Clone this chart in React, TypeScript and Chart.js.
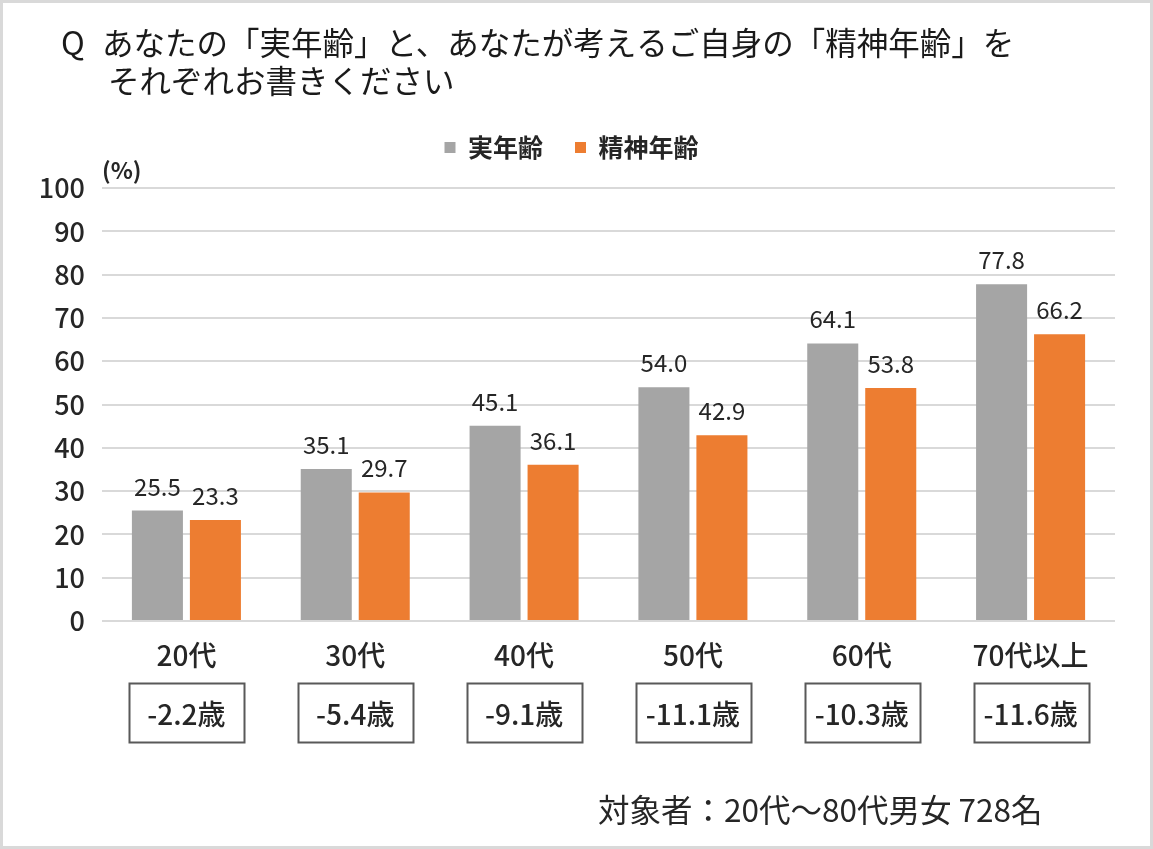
import { useEffect, useRef } from 'react';
import { Chart, registerables } from 'chart.js';

Chart.register(...registerables);

const categories = ['20代', '30代', '40代', '50代', '60代', '70代以上'];
const actualAge = [25.5, 35.1, 45.1, 54.0, 64.1, 77.8];
const mentalAge = [23.3, 29.7, 36.1, 42.9, 53.8, 66.2];
const ageGaps = ['-2.2歳', '-5.4歳', '-9.1歳', '-11.1歳', '-10.3歳', '-11.6歳'];
const titleMark = 'Q';
const titleLines = ['あなたの「実年齢」と、あなたが考えるご自身の「精神年齢」を', 'それぞれお書きください'];
const footnote = '対象者：20代～80代男女 728名';

const FONT = '"Noto Sans CJK JP", "Noto Sans", sans-serif';
const TEXT = '#262626';
const PAD_LEFT = 28;

// frame, title, value labels, gap boxes and footnote
const decorations = {
  id: 'decorations',
  afterDraw(chart: any) {
    const { ctx } = chart;
    const x = chart.scales.x;
    ctx.save();

    ctx.strokeStyle = '#d9d9d9';
    ctx.lineWidth = 3;
    ctx.strokeRect(1.5, 1.5, chart.width - 3, chart.height - 3);

    ctx.fillStyle = '#1a1a1a';
    ctx.font = `32px ${FONT}`;
    ctx.textAlign = 'left';
    ctx.textBaseline = 'middle';
    ctx.fillText(titleMark, 61, 43);
    ctx.font = `31.5px ${FONT}`;
    ctx.fillText(titleLines[0], 102, 43);
    ctx.fillText(titleLines[1], 108, 81);

    ctx.fillStyle = TEXT;
    ctx.font = `24px ${FONT}`;
    ctx.textAlign = 'center';
    ctx.textBaseline = 'alphabetic';
    chart.data.datasets.forEach((ds: any, di: number) => {
      chart.getDatasetMeta(di).data.forEach((bar: any, i: number) => {
        ctx.fillText(Number(ds.data[i]).toFixed(1), bar.x, bar.y - 15);
      });
    });

    ctx.font = `500 28px ${FONT}`;
    ctx.textBaseline = 'middle';
    ctx.strokeStyle = '#595959';
    ctx.lineWidth = 2;
    ageGaps.forEach((t, i) => {
      const cx = x.getPixelForValue(i);
      ctx.strokeRect(Math.round(cx - 57) + 0.5, 683.5, 115, 59);
      ctx.fillText(t, cx, 714);
    });

    ctx.font = `31.5px ${FONT}`;
    ctx.textAlign = 'left';
    ctx.fillText(footnote, 598, 810);
    ctx.restore();
  },
};

export default function App() {
  const canvasRef = useRef<HTMLCanvasElement>(null);

  useEffect(() => {
    const chart = new Chart(canvasRef.current!, {
      type: 'bar',
      data: {
        labels: categories,
        datasets: [
          {
            label: '実年齢',
            data: actualAge,
            backgroundColor: '#a5a5a5',
            categoryPercentage: 0.687,
            barPercentage: 0.88,
          },
          {
            label: '精神年齢',
            data: mentalAge,
            backgroundColor: '#ed7d31',
            categoryPercentage: 0.687,
            barPercentage: 0.88,
          },
        ],
      },
      options: {
        responsive: true,
        maintainAspectRatio: false,
        animation: false,
        layout: { padding: { left: PAD_LEFT, right: 38, top: 103, bottom: 0 } },
        plugins: {
          legend: {
            position: 'top',
            labels: {
              boxWidth: 11,
              boxHeight: 11,
              padding: 32,
              color: TEXT,
              font: { family: FONT, size: 25, weight: 'bold' },
            },
          },
          subtitle: {
            display: true,
            text: '(%)',
            align: 'start',
            fullSize: false,
            weight: 500,
            color: TEXT,
            font: { family: FONT, size: 23, weight: 'bold', lineHeight: 1.2 },
            padding: { top: -13.8, bottom: 4.2 },
          },
          tooltip: { enabled: false },
        },
        scales: {
          x: {
            grid: { display: false },
            border: { display: false },
            ticks: { color: TEXT, padding: 10, font: { family: FONT, size: 28, weight: 500 } },
            afterFit: (scale: any) => { scale.height = 228; },
          },
          y: {
            min: 0,
            max: 100,
            ticks: { stepSize: 10, color: TEXT, padding: 17, font: { family: FONT, size: 27, weight: 500 } },
            grid: { color: '#d9d9d9', lineWidth: 2, drawTicks: false },
            border: { display: false },
            afterFit: (scale: any) => { scale.width = 102 - PAD_LEFT; },
          },
        },
      },
      plugins: [decorations],
    } as any);
    return () => chart.destroy();
  }, []);

  return (
    <div style={{ position: 'fixed', left: 0, top: 0, width: 1153, height: 849, background: '#fff' }}>
      <canvas ref={canvasRef} />
    </div>
  );
}
